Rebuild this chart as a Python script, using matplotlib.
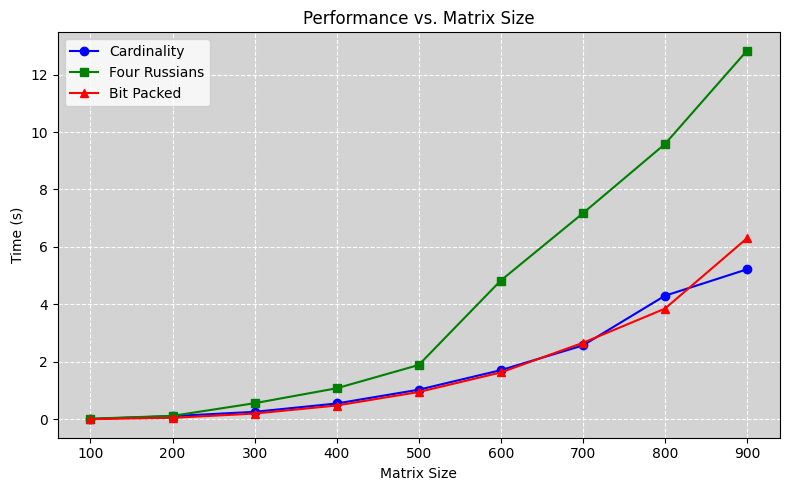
import matplotlib
matplotlib.use("Agg")
import matplotlib.pyplot as plt

# matrix sizes and timings (seconds)
sizes = [100, 200, 300, 400, 500, 600, 700, 800, 900]
cardinality = [0.01, 0.11, 0.26, 0.55, 1.03, 1.71, 2.57, 4.30, 5.22]
four_russians = [0.02, 0.12, 0.56, 1.08, 1.89, 4.83, 7.17, 9.58, 12.83]
bit_packed = [0.005, 0.05, 0.20, 0.48, 0.95, 1.63, 2.66, 3.85, 6.30]

fig, ax = plt.subplots(figsize=(7.9, 4.9), dpi=100)
ax.set_facecolor('lightgray')

ax.plot(sizes, cardinality, marker='o', color='blue', label='Cardinality')
ax.plot(sizes, four_russians, marker='s', color='green', label='Four Russians')
ax.plot(sizes, bit_packed, marker='^', color='red', label='Bit Packed')

ax.set_title('Performance vs. Matrix Size')
ax.set_xlabel('Matrix Size')
ax.set_ylabel('Time (s)')
ax.set_xticks(sizes)
ax.grid(True, color='white', linestyle='--')
ax.legend(loc='upper left')

fig.subplots_adjust(left=0.073, right=0.987, top=0.934, bottom=0.107)
plt.savefig('out.png')
